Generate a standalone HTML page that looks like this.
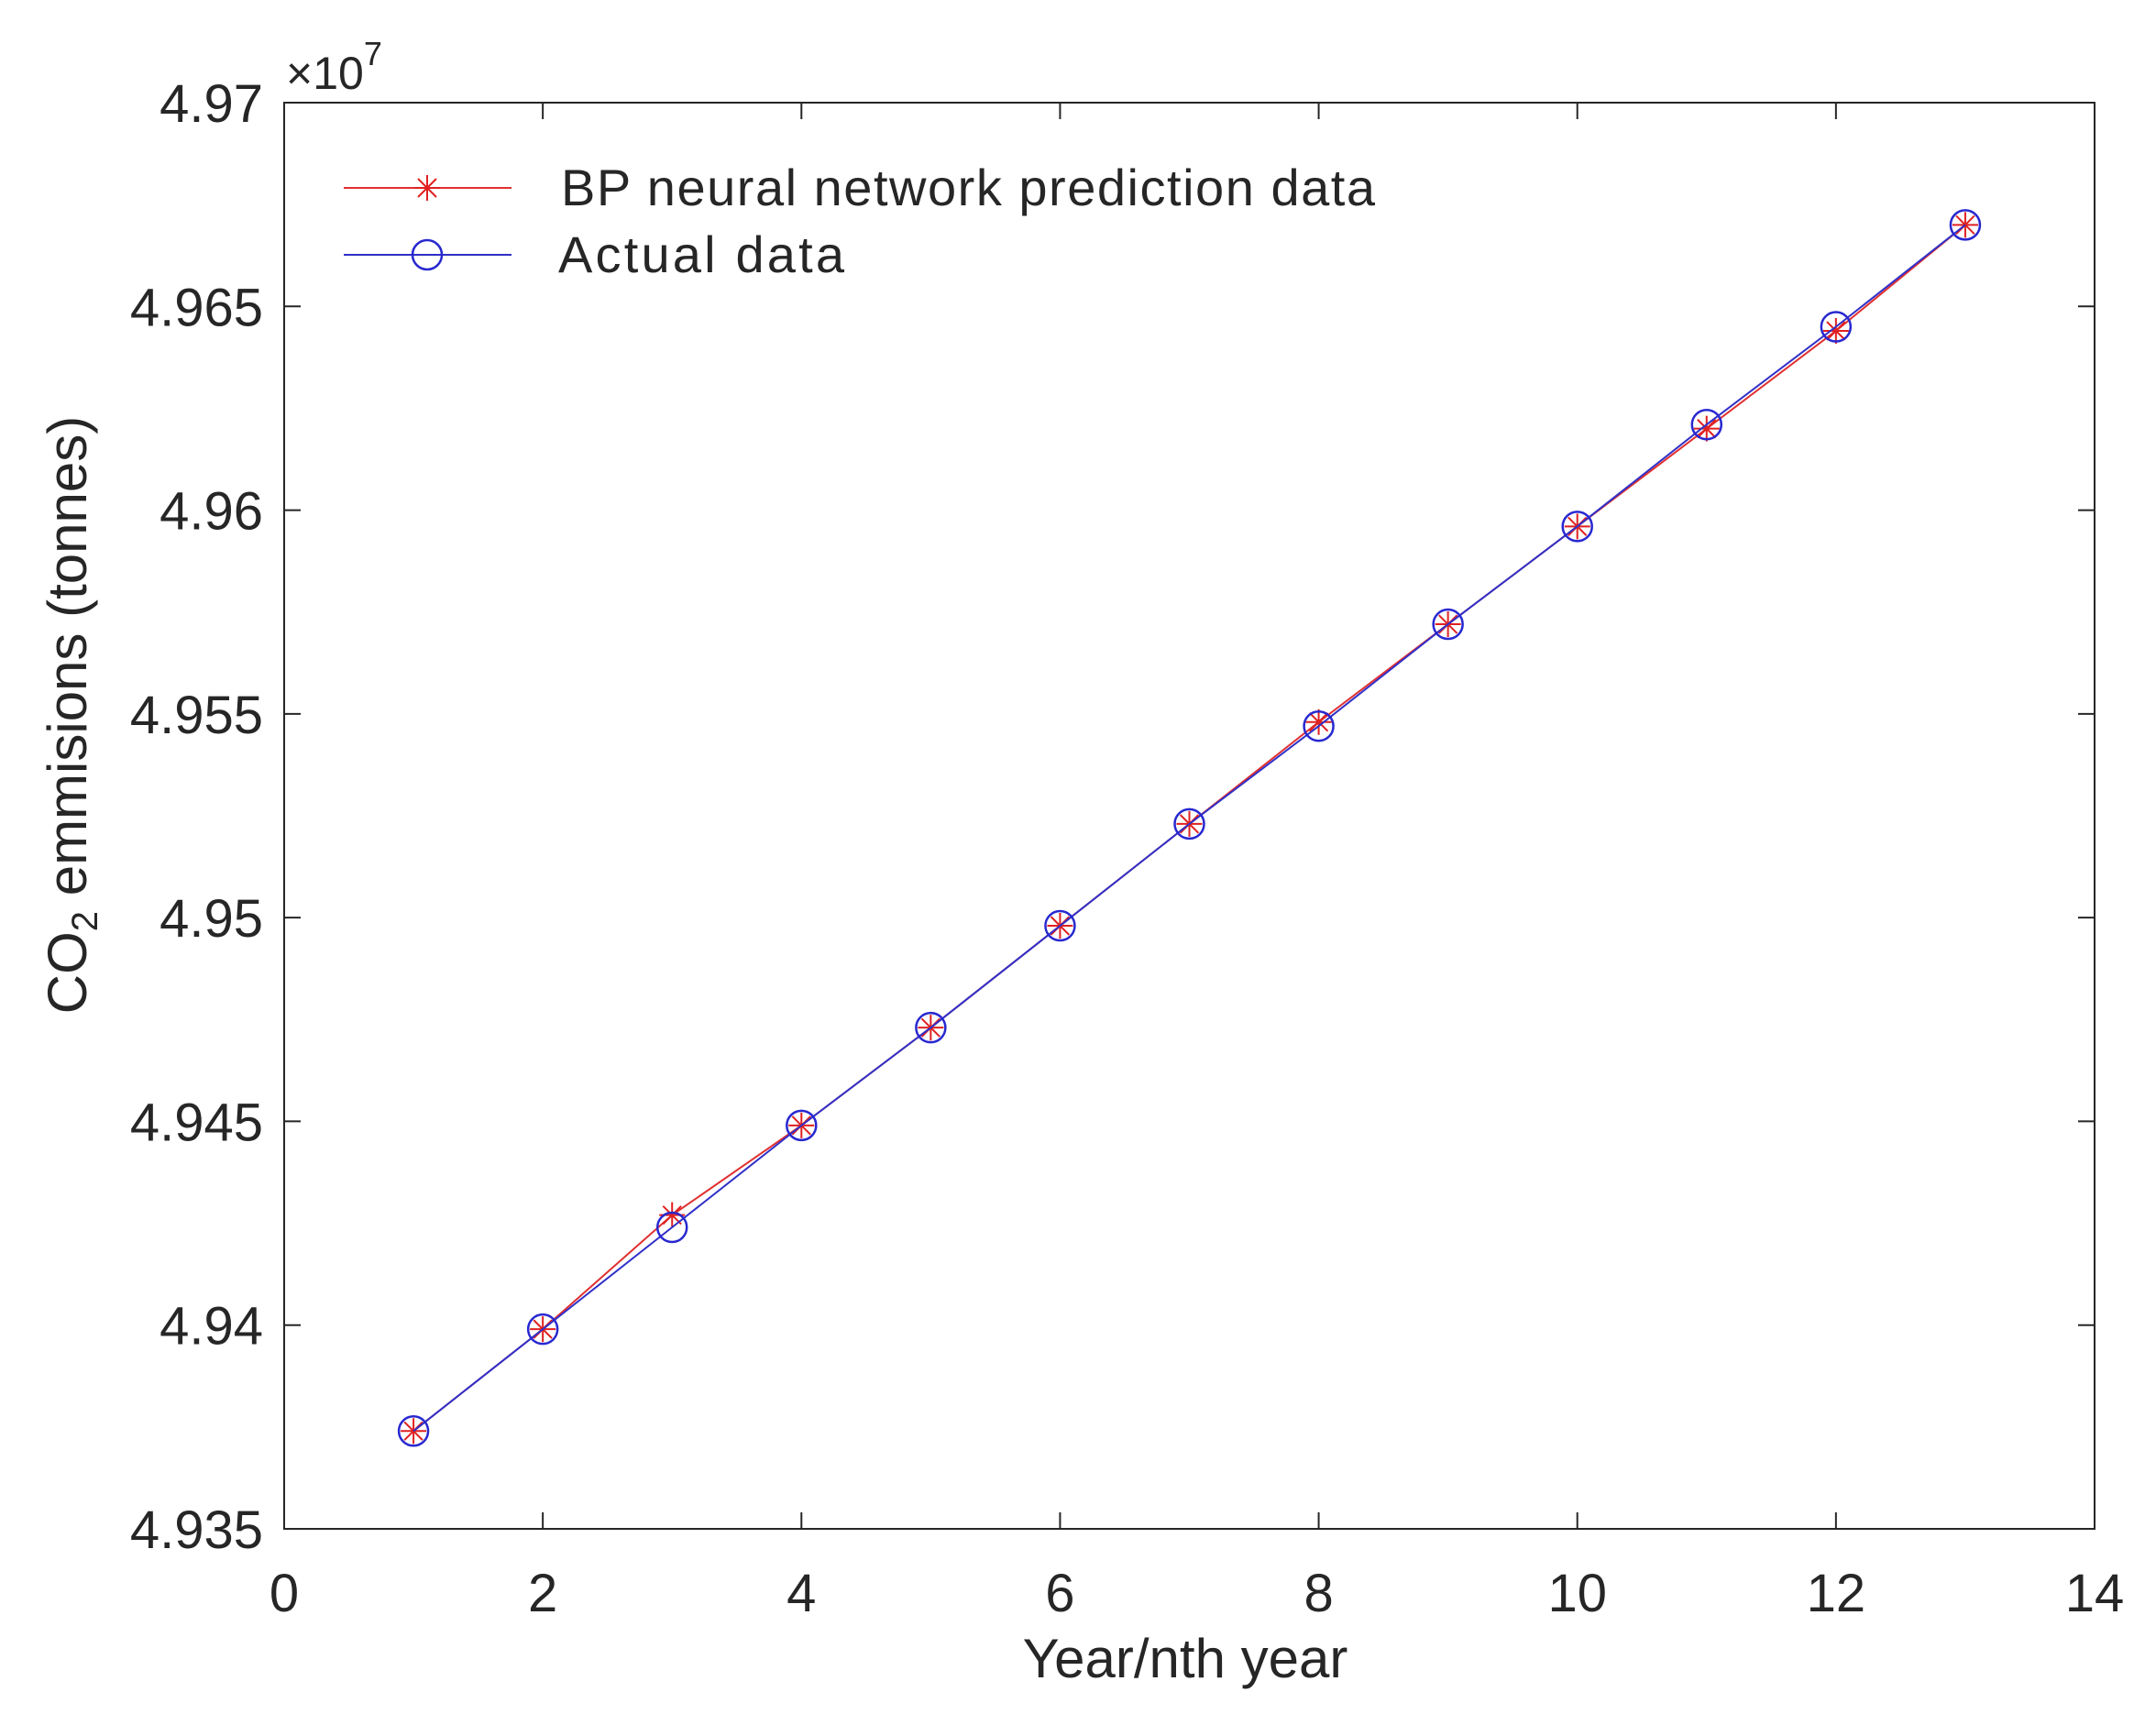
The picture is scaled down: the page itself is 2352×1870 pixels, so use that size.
<!DOCTYPE html>
<html><head><meta charset="utf-8"><style>
html,body{margin:0;padding:0;background:#fff;}
svg{display:block;font-family:"Liberation Sans",sans-serif;}
</style></head><body>
<svg id="chartsvg" width="2352" height="1870" viewBox="0 0 2352 1870" xmlns="http://www.w3.org/2000/svg">
<rect width="2352" height="1870" fill="#fff"/>
<g id="seriesLayer"></g>
<g id="axesLayer"></g>
<g>
  <g>
    <line x1="375" y1="205" x2="558" y2="205" stroke="#e03030" stroke-width="2"/>
    <path d="M452,205H480M466,191V219M456,195L476,215M476,195L456,215" stroke="#e02020" stroke-width="2" fill="none"/>
    <text x="612" y="224" font-size="56" fill="#262626" textLength="888">BP neural network prediction data</text>
  </g>
  <g>
    <line x1="375" y1="278" x2="558" y2="278" stroke="#3030c8" stroke-width="2"/>
    <circle cx="466" cy="278" r="16" fill="none" stroke="#2828d0" stroke-width="2.5"/>
    <text x="609" y="297" font-size="56" fill="#262626" textLength="312">Actual data</text>
  </g>
</g>
<text x="312" y="97" font-size="50" fill="#262626">×10<tspan dy="-26" font-size="36">7</tspan></text>
<text x="1293" y="1830" font-size="60" text-anchor="middle" fill="#262626">Year/nth year</text>
<text x="0" y="0" font-size="60" text-anchor="middle" fill="#262626" transform="translate(94,780) rotate(-90)">CO<tspan font-size="40" dy="12">2</tspan><tspan dy="-12"> emmisions (tonnes)</tspan></text>
</svg>
<script>
const years = [1,2,3,4,5,6,7,8,9,10,11,12,13];
const actualData = [4.9374,4.9399,4.9424,4.9449,4.9473,4.9498,4.9523,4.9547,4.9572,4.9596,4.9621,4.9645,4.9670];
const predictedData = [4.9374,4.9399,4.9427,4.9449,4.9473,4.9498,4.9523,4.9548,4.9572,4.9596,4.9620,4.9644,4.9670];
const xTicks = [0,2,4,6,8,10,12,14];
const yTicks = [4.935,4.94,4.945,4.95,4.955,4.96,4.965,4.97];
const yTickLabels = ["4.935","4.94","4.945","4.95","4.955","4.96","4.965","4.97"];

const PL=310,PR=2285,PT=112,PB=1668;
const xMin=0,xMax=14,yMin=4.935,yMax=4.97;
function sx(v){return PL+(v-xMin)/(xMax-xMin)*(PR-PL);}
function sy(v){return PB-(v-yMin)/(yMax-yMin)*(PB-PT);}
const SVGNS="http://www.w3.org/2000/svg";
function mk(tag,attrs,parent){const el=document.createElementNS(SVGNS,tag);for(const k in attrs){el.setAttribute(k,attrs[k]);}parent.appendChild(el);return el;}
function starPath(cx,cy,r){
  const d=r*0.7071;
  return 'M'+(cx-r)+','+cy+'H'+(cx+r)+'M'+cx+','+(cy-r)+'V'+(cy+r)+'M'+(cx-d)+','+(cy-d)+'L'+(cx+d)+','+(cy+d)+'M'+(cx+d)+','+(cy-d)+'L'+(cx-d)+','+(cy+d);
}
const axesLayer=document.getElementById('axesLayer');
const seriesLayer=document.getElementById('seriesLayer');

const box=mk('rect',{x:PL,y:PT,width:PR-PL,height:PB-PT,fill:'none',stroke:'#262626','stroke-width':2},axesLayer);



xTicks.forEach(function(v){
  const x=sx(v);
  mk('line',{x1:x,y1:PB,x2:x,y2:PB-18,stroke:'#262626','stroke-width':2},axesLayer);
  mk('line',{x1:x,y1:PT,x2:x,y2:PT+18,stroke:'#262626','stroke-width':2},axesLayer);
  const t=mk('text',{x:x,y:1758,'font-size':58,'text-anchor':'middle',fill:'#262626'},axesLayer);
  t.textContent=String(v);
  
  
});
yTicks.forEach(function(v,i){
  const y=sy(v);
  mk('line',{x1:PL,y1:y,x2:PL+18,y2:y,stroke:'#262626','stroke-width':2},axesLayer);
  mk('line',{x1:PR,y1:y,x2:PR-18,y2:y,stroke:'#262626','stroke-width':2},axesLayer);
  const t=mk('text',{x:287,y:y+21,'font-size':58,'text-anchor':'end',fill:'#262626'},axesLayer);
  t.textContent=yTickLabels[i];
  
  
});

const gp=mk('g',{},seriesLayer);


const pl=mk('polyline',{points:years.map(function(x,i){return sx(x)+','+sy(predictedData[i]);}).join(' '),fill:'none',stroke:'#e03030','stroke-width':2},gp);



const ga=mk('g',{},seriesLayer);


const al=mk('polyline',{points:years.map(function(x,i){return sx(x)+','+sy(actualData[i]);}).join(' '),fill:'none',stroke:'#3030c8','stroke-width':2},ga);



years.forEach(function(x,i){
  const c=mk('circle',{cx:sx(x),cy:sy(actualData[i]),r:16,fill:'none',stroke:'#2828d0','stroke-width':2.5},ga);
  
  
});
years.forEach(function(x,i){
  const p=mk('path',{d:starPath(sx(x),sy(predictedData[i]),14),fill:'none',stroke:'#e02020','stroke-width':2},gp);
  
  
});
</script>
</body></html>
